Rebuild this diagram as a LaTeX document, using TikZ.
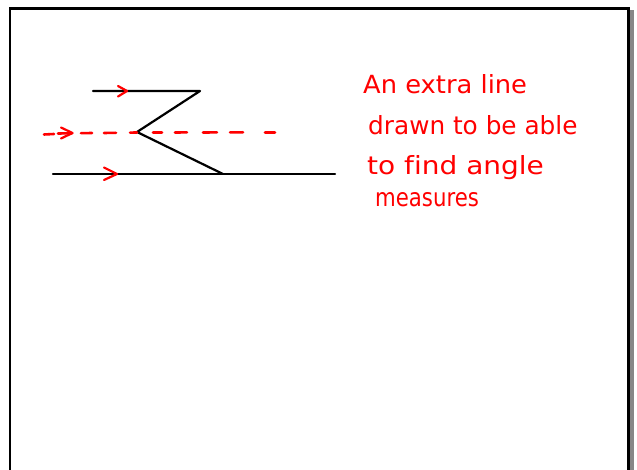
\documentclass[tikz,border=0pt]{standalone}
\usepackage{fontspec}
\setmainfont[Ligatures=NoCommon]{DejaVu Sans}
\definecolor{inkred}{RGB}{255,0,0}
\definecolor{shadowgray}{RGB}{135,135,135}
\begin{document}
\begin{tikzpicture}[x=1pt,y=-1pt,
  blackline/.style={line width=2.2pt,black,line cap=round,line join=round},
  redline/.style={line width=2.6pt,inkred,line cap=round,line join=round},
  chevron/.style={line width=2.2pt,inkred,line cap=round,line join=round},
  note/.style={inkred,anchor=base west,inner sep=0pt,font=\fontsize{25}{30}\selectfont}]
\useasboundingbox (0,0) rectangle (637,470);
\clip (0,0) rectangle (637,470);
% frame with shadow
\fill[shadowgray] (629.5,10.5) rectangle (634,480);
\draw[line width=2.5pt] (628.5,480) -- (628.5,8.5) -- (10,8.5) -- (10,480);
% black lines
\coordinate (t1) at (93,91);
\coordinate (t2) at (200,91);
\coordinate (v) at (137,132);
\coordinate (b1) at (53,174);
\coordinate (bz) at (223,174);
\coordinate (b2) at (335,174);
\draw[blackline] (t1) -- (t2) -- (v) -- (bz);
\draw[blackline] (b1) -- (b2);
% chevrons on parallel lines
\draw[chevron] (118,86) -- (127,91) -- (118,96.5);
\draw[chevron] (104,167.5) -- (117,174) -- (104,180);
% red dashed line
\foreach \a/\b/\ya/\yb in {44/54/134.5/134, 58/72/133.5/133.3, 81/92/133.2/133, 104/116/133/132.8, 130/137/132.6/132.5, 153/162/132.6/132.6, 175/187/132.5/132.4, 203/217/132.5/132.4, 230/243/132.4/132.3, 265/275/132.3/132.3}{
  \draw[redline] (\a,\ya) -- (\b,\yb);
}
\draw[chevron] (61,127.5) -- (72.5,133) -- (61,138.5);
% text
\node[note] (l1) at (363,93.5) {\scalebox{1.03}[1]{An extra line}};
\node[note] (l2) at (368,135) {\scalebox{0.99}[1]{drawn to be able}};
\node[note] (l3) at (367,175) {\scalebox{1.12}[1]{to f\kern0pt ind angle}};
\node[note] (l4) at (375,207) {\scalebox{0.85}[1]{measures}};
\end{tikzpicture}
\end{document}
